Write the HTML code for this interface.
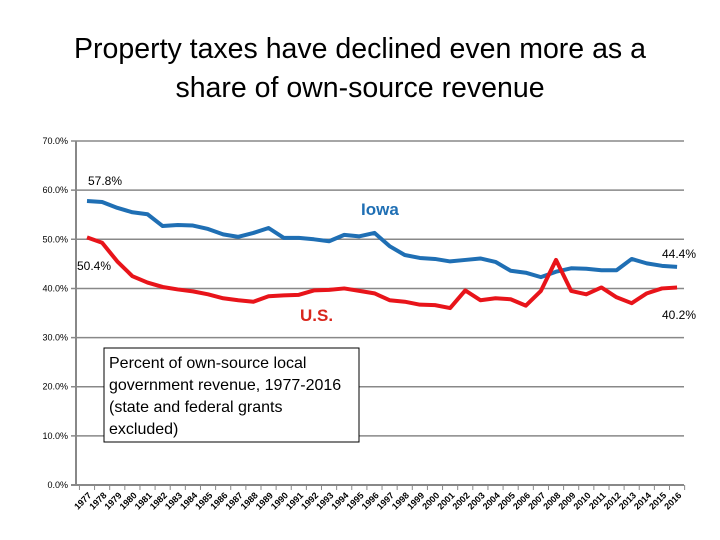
<!DOCTYPE html>
<html><head><meta charset="utf-8"><style>
body{margin:0;background:#fff;}
svg{display:block;font-family:"Liberation Sans",sans-serif;}
</style></head><body>
<svg id="c" width="720" height="540">
<text x="360" y="58" text-anchor="middle" font-size="28.5">Property taxes have declined even more as a</text>
<text x="360" y="97" text-anchor="middle" font-size="28.5">share of own-source revenue</text>
<g id="grid"></g><g id="lines"></g><g id="xl"></g>
<rect x="104" y="348" width="255" height="94" fill="#fff" stroke="#000" stroke-width="1"/>
<text font-size="16"><tspan x="109" y="368">Percent of own-source local</tspan><tspan x="109" y="390">government revenue, 1977-2016</tspan><tspan x="109" y="412">(state and federal grants</tspan><tspan x="109" y="434">excluded)</tspan></text>
<text x="88" y="185" font-size="12">57.8%</text>
<text x="361" y="215" font-size="17" font-weight="bold" fill="#1f6fb4">Iowa</text>
<text x="662" y="258" font-size="12">44.4%</text>
<text x="77" y="270" font-size="12">50.4%</text>
<text x="300" y="321" font-size="17" font-weight="bold" fill="#d9261c">U.S.</text>
<text x="662" y="319" font-size="12">40.2%</text>
</svg>
<script>
const years=[];for(let y=1977;y<=2016;y++)years.push(String(y));
const iowa=[57.8,57.6,56.4,55.5,55.1,52.7,52.9,52.8,52.1,51.0,50.5,51.3,52.3,50.3,50.3,50.0,49.6,50.9,50.6,51.3,48.6,46.8,46.2,46.0,45.5,45.8,46.1,45.4,43.6,43.2,42.3,43.4,44.1,44.0,43.7,43.7,46.0,45.1,44.6,44.4];
const us=[50.4,49.3,45.5,42.5,41.2,40.3,39.8,39.4,38.8,38.0,37.6,37.3,38.4,38.6,38.7,39.6,39.7,40.0,39.5,39.0,37.6,37.3,36.7,36.6,36.0,39.6,37.6,38.0,37.8,36.5,39.5,45.8,39.5,38.8,40.2,38.2,37.0,39.0,40.0,40.2];
const yTicks=[0,10,20,30,40,50,60,70];
const NS="http://www.w3.org/2000/svg";
const x0=76,x1=684,step=15.13,first=87;
const xs=i=>first+step*i;
const ys=v=>485-v*4.914;
function mk(t,a,p){const e=document.createElementNS(NS,t);for(const k in a)e.setAttribute(k,a[k]);p.appendChild(e);return e;}
const g=document.getElementById('grid');
yTicks.forEach(v=>{
 const l=mk('line',{x1:x0-5,x2:x1,y1:ys(v),y2:ys(v),stroke:'#888','stroke-width':v?1.5:2},g);
 
 
 const t=mk('text',{x:x0-8,y:ys(v)+3,'text-anchor':'end','font-size':9},g);t.textContent=v.toFixed(1)+'%';
 
 
});
const ax=mk('line',{x1:x0,x2:x0,y1:ys(70),y2:ys(0),stroke:'#888','stroke-width':2},g);


for(let i=0;i<=years.length;i++){const tx=xs(i)-step/2;const tk=mk('line',{x1:tx,x2:tx,y1:485,y2:490,stroke:'#888'},g);
 
 }
const L=document.getElementById('lines');
function series(d,c,n){const p=mk('polyline',{points:d.map((v,i)=>xs(i)+','+ys(v)).join(' '),fill:'none',stroke:c,'stroke-width':4,'stroke-linejoin':'round'},L);
 
 }
series(iowa,'#1f6fb4','iowa-line');
series(us,'#e8141a','us-line');
const X=document.getElementById('xl');
years.forEach((y,i)=>{const cx=xs(i)+5,cy=496;
 const t=mk('text',{x:cx,y:cy,'text-anchor':'end','font-size':9,'font-weight':'bold',transform:`rotate(-45 ${cx} ${cy})`},X);t.textContent=y;
 
 });
</script>
</body></html>
